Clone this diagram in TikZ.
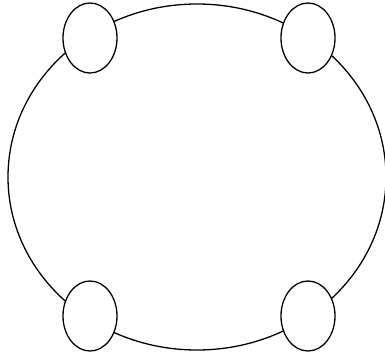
\documentclass[tikz,border=0pt]{standalone}
\usetikzlibrary{shapes.geometric}
\begin{document}
\begin{tikzpicture}[x=0.03cm,y=-0.03cm,line width=1.1pt]
% ring with four small ellipses sitting on it
\useasboundingbox (0,0) rectangle (385,355);
\node[draw,ellipse,inner sep=0pt,minimum width=11.34cm,minimum height=10.38cm] (ring) at (197,177) {};
\foreach \n/\x/\y in {tl/90/38,tr/308/38,bl/90/316,br/308/316} {\node[draw,ellipse,fill=white,inner sep=0pt,minimum width=1.62cm,minimum height=2.1cm] (\n) at (\x,\y) {};}
\end{tikzpicture}
\end{document}
